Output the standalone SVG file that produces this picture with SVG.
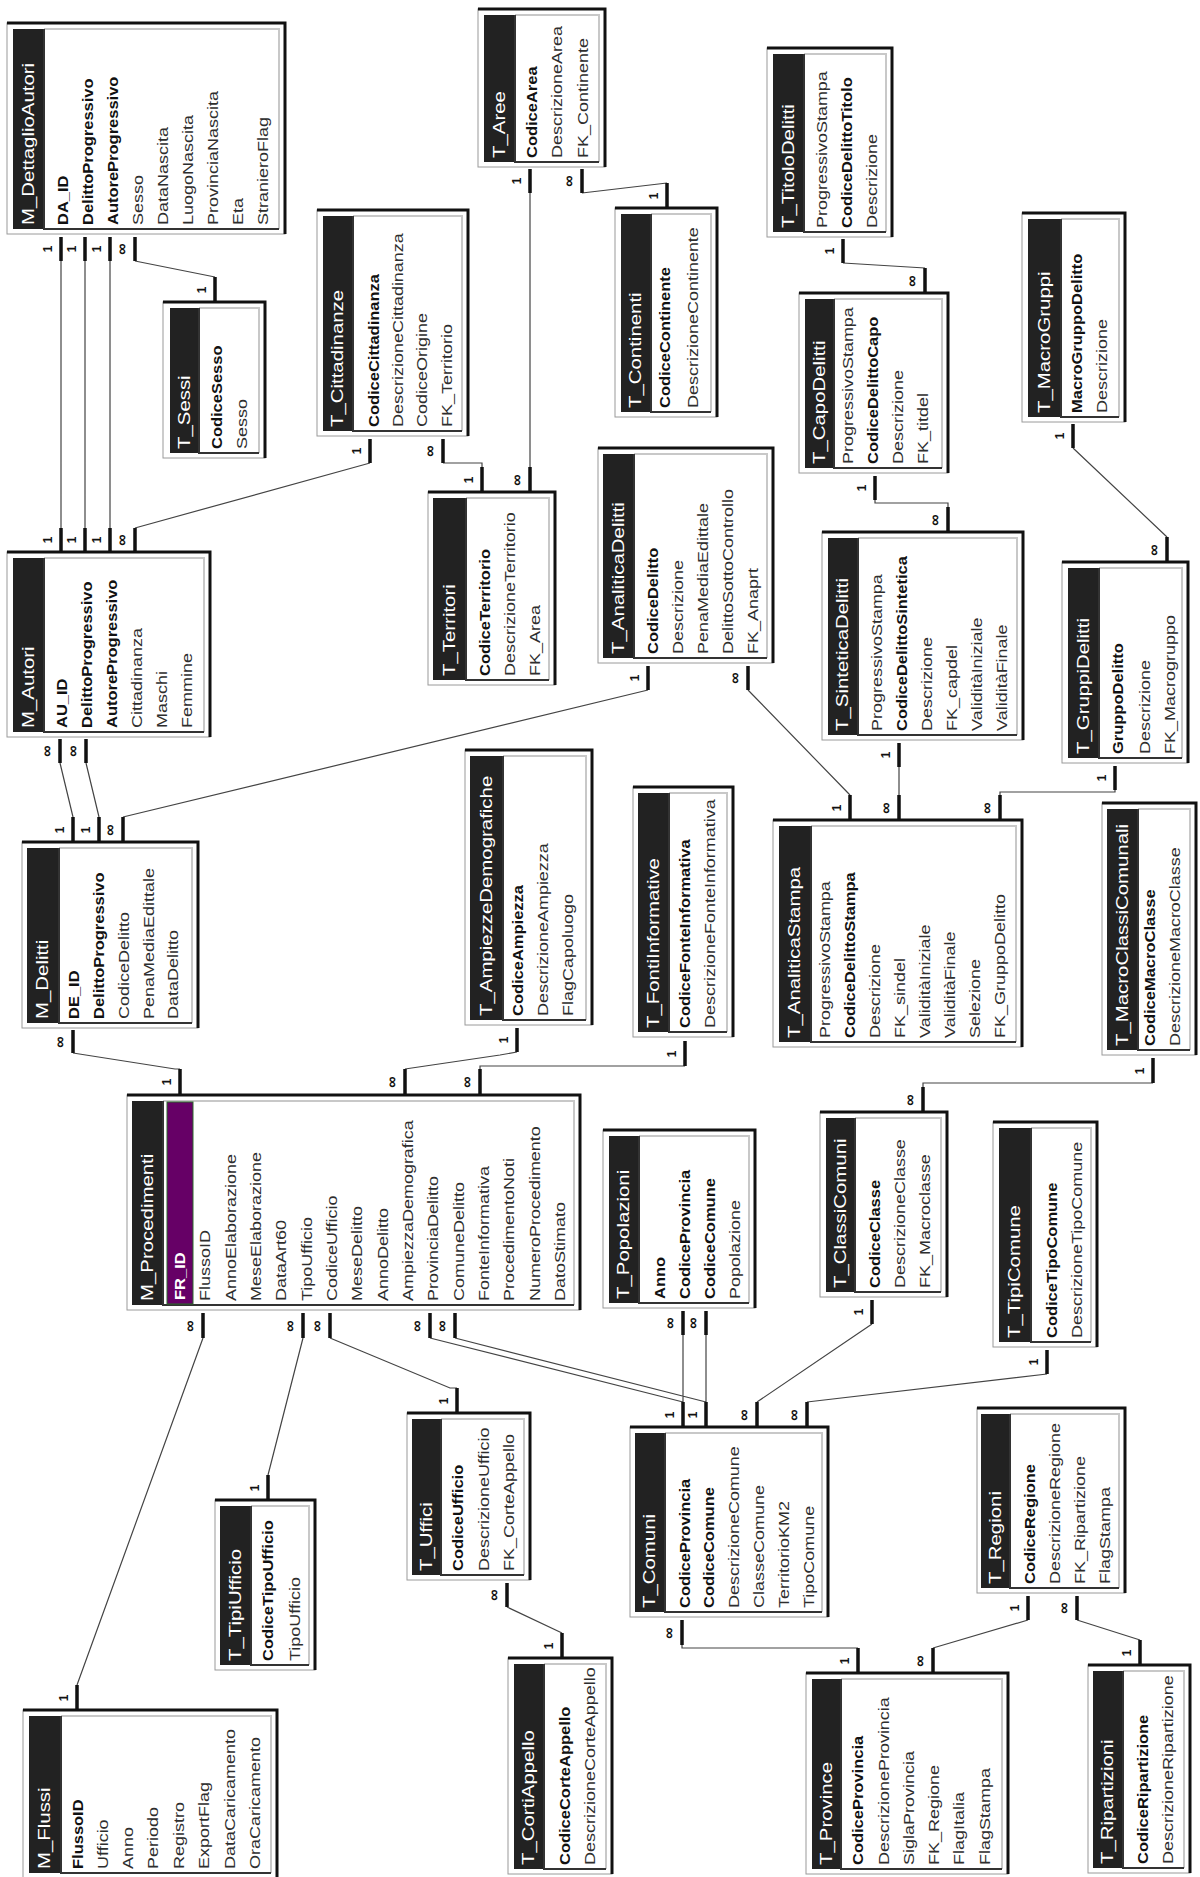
<svg xmlns="http://www.w3.org/2000/svg" width="1200" height="1877" viewBox="0 0 1200 1877">
<style>
.bg{fill:#fff}
.win{fill:#fff;stroke:#9a9a9a;stroke-width:1}
.edge{fill:none;stroke:#111;stroke-width:3}
.hdr{fill:#222}
.lt{fill:none;stroke:#c8c8c8;stroke-width:2}
.ins{fill:none;stroke:#333;stroke-width:2}
.t{font-family:"Liberation Sans",Arial,sans-serif;font-size:17px;fill:#fff}
.f{font-family:"Liberation Sans",Arial,sans-serif;font-size:15px;fill:#2e2e2e}
.k{font-family:"Liberation Sans",Arial,sans-serif;font-size:15px;font-weight:bold;fill:#111}
.kw{font-family:"Liberation Sans",Arial,sans-serif;font-size:15px;font-weight:bold;fill:#fff}
.pk{fill:#660066;stroke:#2a6a2a;stroke-width:1}
.stub{fill:none;stroke:#111;stroke-width:3.5}
.ln{fill:none;stroke:#444;stroke-width:1.2}
.c{font-family:"Liberation Sans",Arial,sans-serif;font-size:12px;font-weight:bold;fill:#111;text-anchor:middle}
.c.i{font-size:16px}
</style>
<rect class="bg" x="0" y="0" width="1200" height="1877"/>

<g id="connectors">
<path class="ln" d="M61 261V528M85 261V528M110 261V528M135 261L215 277M135 528L370 463M60 763L73 817M86 763L99 817M123 817L648 690M73 1053L175 1069H180M443 463H482V467M530 193V467M582 193L667 183M843 263L925 268M875 500V503H948V507M899 767V795M748 690L850 795M1073 448L1167 537M1115 790V792H1000V795M405 1069L500 1055L517 1052M480 1069V1066H685M1153 1083H923V1087M203 1338L77 1685M303 1338L268 1475M330 1338L450 1388H457M430 1338L683 1402M455 1338L706 1402M683 1335V1402M706 1335V1402M872 1324L757 1402M1047 1374L807 1402M507 1607L562 1633M682 1645V1648H858M1028 1620L933 1648M1077 1620L1140 1640"/>
<path class="stub" d="M61 237V261M85 237V261M110 237V261M135 237V261M215 277V302M61 528V552M85 528V552M110 528V552M135 528V552M60 739V763M86 739V763M73 817V842M99 817V842M123 817V842M73 1030V1053M370 439V463M443 439V463M530 169V193M582 169V193M667 183V208M482 467V492M530 467V492M843 239V263M925 268V293M875 476V500M948 507V532M899 743V767M1073 424V448M1167 537V562M1115 766V790M648 666V690M748 666V690M850 795V820M899 795V820M1000 795V820M517 1028V1052M685 1041V1066M180 1069V1095M405 1069V1095M480 1069V1095M203 1313V1338M303 1313V1338M330 1313V1338M430 1313V1338M455 1313V1338M1153 1058V1083M923 1087V1112M872 1300V1324M1047 1350V1374M683 1311V1335M706 1311V1335M683 1402V1427M706 1402V1427M757 1402V1427M807 1402V1427M682 1620V1645M457 1388V1413M507 1583V1607M562 1633V1658M268 1475V1500M77 1685V1710M858 1648V1673M933 1648V1673M1028 1596V1620M1077 1596V1620M1140 1640V1665"/>
<text class="c" transform="translate(52,249) rotate(-90)">1</text>
<text class="c" transform="translate(76,249) rotate(-90)">1</text>
<text class="c" transform="translate(101,249) rotate(-90)">1</text>
<text class="c i" transform="translate(127,249) rotate(-90)">∞</text>
<text class="c" transform="translate(206,290) rotate(-90)">1</text>
<text class="c" transform="translate(52,540) rotate(-90)">1</text>
<text class="c" transform="translate(76,540) rotate(-90)">1</text>
<text class="c" transform="translate(101,540) rotate(-90)">1</text>
<text class="c i" transform="translate(127,540) rotate(-90)">∞</text>
<text class="c i" transform="translate(52,751) rotate(-90)">∞</text>
<text class="c i" transform="translate(78,751) rotate(-90)">∞</text>
<text class="c" transform="translate(64,830) rotate(-90)">1</text>
<text class="c" transform="translate(90,830) rotate(-90)">1</text>
<text class="c i" transform="translate(115,830) rotate(-90)">∞</text>
<text class="c i" transform="translate(65,1042) rotate(-90)">∞</text>
<text class="c" transform="translate(361,451) rotate(-90)">1</text>
<text class="c i" transform="translate(435,451) rotate(-90)">∞</text>
<text class="c" transform="translate(521,181) rotate(-90)">1</text>
<text class="c i" transform="translate(574,181) rotate(-90)">∞</text>
<text class="c" transform="translate(658,196) rotate(-90)">1</text>
<text class="c" transform="translate(473,480) rotate(-90)">1</text>
<text class="c i" transform="translate(522,480) rotate(-90)">∞</text>
<text class="c" transform="translate(834,251) rotate(-90)">1</text>
<text class="c i" transform="translate(917,281) rotate(-90)">∞</text>
<text class="c" transform="translate(866,488) rotate(-90)">1</text>
<text class="c i" transform="translate(940,520) rotate(-90)">∞</text>
<text class="c" transform="translate(890,755) rotate(-90)">1</text>
<text class="c" transform="translate(1064,436) rotate(-90)">1</text>
<text class="c i" transform="translate(1159,550) rotate(-90)">∞</text>
<text class="c" transform="translate(1106,778) rotate(-90)">1</text>
<text class="c" transform="translate(639,678) rotate(-90)">1</text>
<text class="c i" transform="translate(740,678) rotate(-90)">∞</text>
<text class="c" transform="translate(841,808) rotate(-90)">1</text>
<text class="c i" transform="translate(891,808) rotate(-90)">∞</text>
<text class="c i" transform="translate(992,808) rotate(-90)">∞</text>
<text class="c" transform="translate(508,1040) rotate(-90)">1</text>
<text class="c" transform="translate(676,1054) rotate(-90)">1</text>
<text class="c" transform="translate(171,1082) rotate(-90)">1</text>
<text class="c i" transform="translate(397,1082) rotate(-90)">∞</text>
<text class="c i" transform="translate(472,1082) rotate(-90)">∞</text>
<text class="c i" transform="translate(195,1326) rotate(-90)">∞</text>
<text class="c i" transform="translate(295,1326) rotate(-90)">∞</text>
<text class="c i" transform="translate(322,1326) rotate(-90)">∞</text>
<text class="c i" transform="translate(422,1326) rotate(-90)">∞</text>
<text class="c i" transform="translate(447,1326) rotate(-90)">∞</text>
<text class="c" transform="translate(1144,1071) rotate(-90)">1</text>
<text class="c i" transform="translate(915,1100) rotate(-90)">∞</text>
<text class="c" transform="translate(863,1312) rotate(-90)">1</text>
<text class="c" transform="translate(1038,1362) rotate(-90)">1</text>
<text class="c i" transform="translate(675,1323) rotate(-90)">∞</text>
<text class="c i" transform="translate(698,1323) rotate(-90)">∞</text>
<text class="c" transform="translate(674,1415) rotate(-90)">1</text>
<text class="c" transform="translate(697,1415) rotate(-90)">1</text>
<text class="c i" transform="translate(749,1415) rotate(-90)">∞</text>
<text class="c i" transform="translate(799,1415) rotate(-90)">∞</text>
<text class="c i" transform="translate(674,1633) rotate(-90)">∞</text>
<text class="c" transform="translate(448,1401) rotate(-90)">1</text>
<text class="c i" transform="translate(499,1595) rotate(-90)">∞</text>
<text class="c" transform="translate(553,1646) rotate(-90)">1</text>
<text class="c" transform="translate(259,1488) rotate(-90)">1</text>
<text class="c" transform="translate(68,1698) rotate(-90)">1</text>
<text class="c" transform="translate(849,1661) rotate(-90)">1</text>
<text class="c i" transform="translate(925,1661) rotate(-90)">∞</text>
<text class="c" transform="translate(1019,1608) rotate(-90)">1</text>
<text class="c i" transform="translate(1069,1608) rotate(-90)">∞</text>
<text class="c" transform="translate(1131,1653) rotate(-90)">1</text>
</g>

<g id="M_DettaglioAutori">
<rect class="win" x="7" y="23" width="278" height="211"/>
<path class="edge" d="M7 23H285V234"/>
<rect class="hdr" x="13" y="29" width="30" height="200"/>
<path class="lt" d="M44 29H279V229"/><path class="ins" d="M44 29V229H279"/>
<text class="t" transform="translate(34,225) rotate(-90) scale(1.2,1)">M_DettaglioAutori</text>
<text class="k" transform="translate(68,225) rotate(-90) scale(1.1,1)">DA_ID</text>
<text class="k" transform="translate(93,225) rotate(-90) scale(1.1,1)">DelittoProgressivo</text>
<text class="k" transform="translate(118,225) rotate(-90) scale(1.1,1)">AutoreProgressivo</text>
<text class="f" transform="translate(143,225) rotate(-90) scale(1.2,1)">Sesso</text>
<text class="f" transform="translate(168,225) rotate(-90) scale(1.2,1)">DataNascita</text>
<text class="f" transform="translate(193,225) rotate(-90) scale(1.2,1)">LuogoNascita</text>
<text class="f" transform="translate(218,225) rotate(-90) scale(1.2,1)">ProvinciaNascita</text>
<text class="f" transform="translate(243,225) rotate(-90) scale(1.2,1)">Eta</text>
<text class="f" transform="translate(268,225) rotate(-90) scale(1.2,1)">StranieroFlag</text>
</g>

<g id="T_Sessi">
<rect class="win" x="163" y="302" width="102" height="156"/>
<path class="edge" d="M163 302H265V458"/>
<rect class="hdr" x="170" y="308" width="28" height="145"/>
<path class="lt" d="M199 308H259V453"/><path class="ins" d="M199 308V453H259"/>
<text class="t" transform="translate(190,449) rotate(-90) scale(1.2,1)">T_Sessi</text>
<text class="k" transform="translate(222,449) rotate(-90) scale(1.1,1)">CodiceSesso</text>
<text class="f" transform="translate(247,449) rotate(-90) scale(1.2,1)">Sesso</text>
</g>

<g id="T_Cittadinanze">
<rect class="win" x="317" y="210" width="151" height="226"/>
<path class="edge" d="M317 210H468V436"/>
<rect class="hdr" x="323" y="216" width="29" height="215"/>
<path class="lt" d="M353 216H462V431"/><path class="ins" d="M353 216V431H462"/>
<text class="t" transform="translate(343,427) rotate(-90) scale(1.2,1)">T_Cittadinanze</text>
<text class="k" transform="translate(379,427) rotate(-90) scale(1.1,1)">CodiceCittadinanza</text>
<text class="f" transform="translate(403,427) rotate(-90) scale(1.2,1)">DescrizioneCittadinanza</text>
<text class="f" transform="translate(427,427) rotate(-90) scale(1.2,1)">CodiceOrigine</text>
<text class="f" transform="translate(452,427) rotate(-90) scale(1.2,1)">FK_Territorio</text>
</g>

<g id="T_Aree">
<rect class="win" x="478" y="9" width="127" height="158"/>
<path class="edge" d="M478 9H605V167"/>
<rect class="hdr" x="484" y="15" width="30" height="147"/>
<path class="lt" d="M515 15H599V162"/><path class="ins" d="M515 15V162H599"/>
<text class="t" transform="translate(505,158) rotate(-90) scale(1.2,1)">T_Aree</text>
<text class="k" transform="translate(537,158) rotate(-90) scale(1.1,1)">CodiceArea</text>
<text class="f" transform="translate(562,158) rotate(-90) scale(1.2,1)">DescrizioneArea</text>
<text class="f" transform="translate(588,158) rotate(-90) scale(1.2,1)">FK_Continente</text>
</g>

<g id="T_Continenti">
<rect class="win" x="615" y="208" width="102" height="209"/>
<path class="edge" d="M615 208H717V417"/>
<rect class="hdr" x="621" y="214" width="29" height="198"/>
<path class="lt" d="M651 214H711V412"/><path class="ins" d="M651 214V412H711"/>
<text class="t" transform="translate(641,408) rotate(-90) scale(1.2,1)">T_Continenti</text>
<text class="k" transform="translate(670,408) rotate(-90) scale(1.1,1)">CodiceContinente</text>
<text class="f" transform="translate(698,408) rotate(-90) scale(1.2,1)">DescrizioneContinente</text>
</g>

<g id="T_TitoloDelitti">
<rect class="win" x="767" y="48" width="125" height="189"/>
<path class="edge" d="M767 48H892V237"/>
<rect class="hdr" x="773" y="54" width="30" height="178"/>
<path class="lt" d="M804 54H886V232"/><path class="ins" d="M804 54V232H886"/>
<text class="t" transform="translate(794,228) rotate(-90) scale(1.2,1)">T_TitoloDelitti</text>
<text class="f" transform="translate(827,228) rotate(-90) scale(1.2,1)">ProgressivoStampa</text>
<text class="k" transform="translate(852,228) rotate(-90) scale(1.1,1)">CodiceDelittoTitolo</text>
<text class="f" transform="translate(877,228) rotate(-90) scale(1.2,1)">Descrizione</text>
</g>

<g id="T_CapoDelitti">
<rect class="win" x="799" y="293" width="149" height="180"/>
<path class="edge" d="M799 293H948V473"/>
<rect class="hdr" x="805" y="299" width="28" height="169"/>
<path class="lt" d="M834 299H942V468"/><path class="ins" d="M834 299V468H942"/>
<text class="t" transform="translate(825,464) rotate(-90) scale(1.2,1)">T_CapoDelitti</text>
<text class="f" transform="translate(853,464) rotate(-90) scale(1.2,1)">ProgressivoStampa</text>
<text class="k" transform="translate(878,464) rotate(-90) scale(1.1,1)">CodiceDelittoCapo</text>
<text class="f" transform="translate(903,464) rotate(-90) scale(1.2,1)">Descrizione</text>
<text class="f" transform="translate(928,464) rotate(-90) scale(1.2,1)">FK_titdel</text>
</g>

<g id="T_MacroGruppi">
<rect class="win" x="1022" y="213" width="103" height="209"/>
<path class="edge" d="M1022 213H1125V422"/>
<rect class="hdr" x="1028" y="219" width="32" height="198"/>
<path class="lt" d="M1061 219H1119V417"/><path class="ins" d="M1061 219V417H1119"/>
<text class="t" transform="translate(1050,413) rotate(-90) scale(1.2,1)">T_MacroGruppi</text>
<text class="k" transform="translate(1082,413) rotate(-90) scale(1.1,1)">MacroGruppoDelitto</text>
<text class="f" transform="translate(1107,413) rotate(-90) scale(1.2,1)">Descrizione</text>
</g>

<g id="M_Autori">
<rect class="win" x="7" y="552" width="203" height="185"/>
<path class="edge" d="M7 552H210V737"/>
<rect class="hdr" x="13" y="558" width="30" height="174"/>
<path class="lt" d="M44 558H204V732"/><path class="ins" d="M44 558V732H204"/>
<text class="t" transform="translate(34,728) rotate(-90) scale(1.2,1)">M_Autori</text>
<text class="k" transform="translate(67,728) rotate(-90) scale(1.1,1)">AU_ID</text>
<text class="k" transform="translate(92,728) rotate(-90) scale(1.1,1)">DelittoProgressivo</text>
<text class="k" transform="translate(117,728) rotate(-90) scale(1.1,1)">AutoreProgressivo</text>
<text class="f" transform="translate(142,728) rotate(-90) scale(1.2,1)">Cittadinanza</text>
<text class="f" transform="translate(167,728) rotate(-90) scale(1.2,1)">Maschi</text>
<text class="f" transform="translate(192,728) rotate(-90) scale(1.2,1)">Femmine</text>
</g>

<g id="M_Delitti">
<rect class="win" x="22" y="842" width="176" height="186"/>
<path class="edge" d="M22 842H198V1028"/>
<rect class="hdr" x="27" y="848" width="31" height="175"/>
<path class="lt" d="M59 848H192V1023"/><path class="ins" d="M59 848V1023H192"/>
<text class="t" transform="translate(48,1019) rotate(-90) scale(1.2,1)">M_Delitti</text>
<text class="k" transform="translate(79,1019) rotate(-90) scale(1.1,1)">DE_ID</text>
<text class="k" transform="translate(104,1019) rotate(-90) scale(1.1,1)">DelittoProgressivo</text>
<text class="f" transform="translate(129,1019) rotate(-90) scale(1.2,1)">CodiceDelitto</text>
<text class="f" transform="translate(154,1019) rotate(-90) scale(1.2,1)">PenaMediaEdittale</text>
<text class="f" transform="translate(178,1019) rotate(-90) scale(1.2,1)">DataDelitto</text>
</g>

<g id="T_Territori">
<rect class="win" x="428" y="492" width="127" height="193"/>
<path class="edge" d="M428 492H555V685"/>
<rect class="hdr" x="433" y="498" width="32" height="182"/>
<path class="lt" d="M466 498H549V680"/><path class="ins" d="M466 498V680H549"/>
<text class="t" transform="translate(455,676) rotate(-90) scale(1.2,1)">T_Territori</text>
<text class="k" transform="translate(490,676) rotate(-90) scale(1.1,1)">CodiceTerritorio</text>
<text class="f" transform="translate(515,676) rotate(-90) scale(1.2,1)">DescrizioneTerritorio</text>
<text class="f" transform="translate(540,676) rotate(-90) scale(1.2,1)">FK_Area</text>
</g>

<g id="T_AnaliticaDelitti">
<rect class="win" x="598" y="448" width="175" height="215"/>
<path class="edge" d="M598 448H773V663"/>
<rect class="hdr" x="603" y="454" width="30" height="204"/>
<path class="lt" d="M634 454H767V658"/><path class="ins" d="M634 454V658H767"/>
<text class="t" transform="translate(624,654) rotate(-90) scale(1.2,1)">T_AnaliticaDelitti</text>
<text class="k" transform="translate(658,654) rotate(-90) scale(1.1,1)">CodiceDelitto</text>
<text class="f" transform="translate(683,654) rotate(-90) scale(1.2,1)">Descrizione</text>
<text class="f" transform="translate(708,654) rotate(-90) scale(1.2,1)">PenaMediaEdittale</text>
<text class="f" transform="translate(733,654) rotate(-90) scale(1.2,1)">DelittoSottoControllo</text>
<text class="f" transform="translate(758,654) rotate(-90) scale(1.2,1)">FK_Anaprt</text>
</g>

<g id="T_AmpiezzeDemografiche">
<rect class="win" x="465" y="750" width="127" height="275"/>
<path class="edge" d="M465 750H592V1025"/>
<rect class="hdr" x="470" y="756" width="32" height="264"/>
<path class="lt" d="M503 756H586V1020"/><path class="ins" d="M503 756V1020H586"/>
<text class="t" transform="translate(492,1016) rotate(-90) scale(1.2,1)">T_AmpiezzeDemografiche</text>
<text class="k" transform="translate(523,1016) rotate(-90) scale(1.1,1)">CodiceAmpiezza</text>
<text class="f" transform="translate(548,1016) rotate(-90) scale(1.2,1)">DescrizioneAmpiezza</text>
<text class="f" transform="translate(573,1016) rotate(-90) scale(1.2,1)">FlagCapoluogo</text>
</g>

<g id="T_FontiInformative">
<rect class="win" x="633" y="787" width="100" height="250"/>
<path class="edge" d="M633 787H733V1037"/>
<rect class="hdr" x="638" y="793" width="30" height="239"/>
<path class="lt" d="M669 793H727V1032"/><path class="ins" d="M669 793V1032H727"/>
<text class="t" transform="translate(659,1028) rotate(-90) scale(1.2,1)">T_FontiInformative</text>
<text class="k" transform="translate(690,1028) rotate(-90) scale(1.1,1)">CodiceFonteInformativa</text>
<text class="f" transform="translate(715,1028) rotate(-90) scale(1.2,1)">DescrizioneFonteInformativa</text>
</g>

<g id="T_SinteticaDelitti">
<rect class="win" x="822" y="532" width="201" height="208"/>
<path class="edge" d="M822 532H1023V740"/>
<rect class="hdr" x="828" y="538" width="29" height="197"/>
<path class="lt" d="M858 538H1017V735"/><path class="ins" d="M858 538V735H1017"/>
<text class="t" transform="translate(848,731) rotate(-90) scale(1.2,1)">T_SinteticaDelitti</text>
<text class="f" transform="translate(882,731) rotate(-90) scale(1.2,1)">ProgressivoStampa</text>
<text class="k" transform="translate(907,731) rotate(-90) scale(1.1,1)">CodiceDelittoSintetica</text>
<text class="f" transform="translate(932,731) rotate(-90) scale(1.2,1)">Descrizione</text>
<text class="f" transform="translate(957,731) rotate(-90) scale(1.2,1)">FK_capdel</text>
<text class="f" transform="translate(982,731) rotate(-90) scale(1.2,1)">ValiditàIniziale</text>
<text class="f" transform="translate(1007,731) rotate(-90) scale(1.2,1)">ValiditàFinale</text>
</g>

<g id="T_GruppiDelitti">
<rect class="win" x="1062" y="562" width="126" height="201"/>
<path class="edge" d="M1062 562H1188V763"/>
<rect class="hdr" x="1068" y="568" width="30" height="190"/>
<path class="lt" d="M1099 568H1182V758"/><path class="ins" d="M1099 568V758H1182"/>
<text class="t" transform="translate(1089,754) rotate(-90) scale(1.2,1)">T_GruppiDelitti</text>
<text class="k" transform="translate(1123,754) rotate(-90) scale(1.1,1)">GruppoDelitto</text>
<text class="f" transform="translate(1150,754) rotate(-90) scale(1.2,1)">Descrizione</text>
<text class="f" transform="translate(1175,754) rotate(-90) scale(1.2,1)">FK_Macrogruppo</text>
</g>

<g id="T_AnaliticaStampa">
<rect class="win" x="773" y="820" width="249" height="227"/>
<path class="edge" d="M773 820H1022V1047"/>
<rect class="hdr" x="779" y="826" width="31" height="216"/>
<path class="lt" d="M811 826H1016V1042"/><path class="ins" d="M811 826V1042H1016"/>
<text class="t" transform="translate(800,1038) rotate(-90) scale(1.2,1)">T_AnaliticaStampa</text>
<text class="f" transform="translate(830,1038) rotate(-90) scale(1.2,1)">ProgressivoStampa</text>
<text class="k" transform="translate(855,1038) rotate(-90) scale(1.1,1)">CodiceDelittoStampa</text>
<text class="f" transform="translate(880,1038) rotate(-90) scale(1.2,1)">Descrizione</text>
<text class="f" transform="translate(905,1038) rotate(-90) scale(1.2,1)">FK_sindel</text>
<text class="f" transform="translate(930,1038) rotate(-90) scale(1.2,1)">ValiditàIniziale</text>
<text class="f" transform="translate(955,1038) rotate(-90) scale(1.2,1)">ValiditàFinale</text>
<text class="f" transform="translate(980,1038) rotate(-90) scale(1.2,1)">Selezione</text>
<text class="f" transform="translate(1005,1038) rotate(-90) scale(1.2,1)">FK_GruppoDelitto</text>
</g>

<g id="T_MacroClassiComunali">
<rect class="win" x="1102" y="803" width="94" height="252"/>
<path class="edge" d="M1102 803H1196V1055"/>
<rect class="hdr" x="1107" y="809" width="30" height="241"/>
<path class="lt" d="M1138 809H1190V1050"/><path class="ins" d="M1138 809V1050H1190"/>
<text class="t" transform="translate(1128,1046) rotate(-90) scale(1.2,1)">T_MacroClassiComunali</text>
<text class="k" transform="translate(1155,1046) rotate(-90) scale(1.1,1)">CodiceMacroClasse</text>
<text class="f" transform="translate(1180,1046) rotate(-90) scale(1.2,1)">DescrizioneMacroClasse</text>
</g>

<g id="M_Procedimenti">
<rect class="win" x="127" y="1095" width="453" height="215"/>
<path class="edge" d="M127 1095H580V1310"/>
<rect class="hdr" x="132" y="1101" width="30" height="204"/>
<path class="lt" d="M163 1101H574V1305"/><path class="ins" d="M163 1101V1305H574"/>
<rect class="pk" x="167" y="1102" width="26" height="202"/>
<text class="t" transform="translate(153,1301) rotate(-90) scale(1.2,1)">M_Procedimenti</text>
<text class="kw" transform="translate(185,1300) rotate(-90) scale(1.1,1)">FR_ID</text>
<text class="f" transform="translate(210,1301) rotate(-90) scale(1.2,1)">FlussoID</text>
<text class="f" transform="translate(236,1301) rotate(-90) scale(1.2,1)">AnnoElaborazione</text>
<text class="f" transform="translate(261,1301) rotate(-90) scale(1.2,1)">MeseElaborazione</text>
<text class="f" transform="translate(286,1301) rotate(-90) scale(1.2,1)">DataArt60</text>
<text class="f" transform="translate(312,1301) rotate(-90) scale(1.2,1)">TipoUfficio</text>
<text class="f" transform="translate(337,1301) rotate(-90) scale(1.2,1)">CodiceUfficio</text>
<text class="f" transform="translate(362,1301) rotate(-90) scale(1.2,1)">MeseDelitto</text>
<text class="f" transform="translate(388,1301) rotate(-90) scale(1.2,1)">AnnoDelitto</text>
<text class="f" transform="translate(413,1301) rotate(-90) scale(1.2,1)">AmpiezzaDemografica</text>
<text class="f" transform="translate(438,1301) rotate(-90) scale(1.2,1)">ProvinciaDelitto</text>
<text class="f" transform="translate(464,1301) rotate(-90) scale(1.2,1)">ComuneDelitto</text>
<text class="f" transform="translate(489,1301) rotate(-90) scale(1.2,1)">FonteInformativa</text>
<text class="f" transform="translate(514,1301) rotate(-90) scale(1.2,1)">ProcedimentoNoti</text>
<text class="f" transform="translate(540,1301) rotate(-90) scale(1.2,1)">NumeroProcedimento</text>
<text class="f" transform="translate(565,1301) rotate(-90) scale(1.2,1)">DatoStimato</text>
</g>

<g id="T_Popolazioni">
<rect class="win" x="603" y="1130" width="152" height="178"/>
<path class="edge" d="M603 1130H755V1308"/>
<rect class="hdr" x="609" y="1136" width="29" height="167"/>
<path class="lt" d="M639 1136H749V1303"/><path class="ins" d="M639 1136V1303H749"/>
<text class="t" transform="translate(629,1299) rotate(-90) scale(1.2,1)">T_Popolazioni</text>
<text class="k" transform="translate(665,1299) rotate(-90) scale(1.1,1)">Anno</text>
<text class="k" transform="translate(690,1299) rotate(-90) scale(1.1,1)">CodiceProvincia</text>
<text class="k" transform="translate(715,1299) rotate(-90) scale(1.1,1)">CodiceComune</text>
<text class="f" transform="translate(740,1299) rotate(-90) scale(1.2,1)">Popolazione</text>
</g>

<g id="T_ClassiComuni">
<rect class="win" x="820" y="1112" width="127" height="185"/>
<path class="edge" d="M820 1112H947V1297"/>
<rect class="hdr" x="826" y="1118" width="28" height="174"/>
<path class="lt" d="M855 1118H941V1292"/><path class="ins" d="M855 1118V1292H941"/>
<text class="t" transform="translate(846,1288) rotate(-90) scale(1.2,1)">T_ClassiComuni</text>
<text class="k" transform="translate(880,1288) rotate(-90) scale(1.1,1)">CodiceClasse</text>
<text class="f" transform="translate(905,1288) rotate(-90) scale(1.2,1)">DescrizioneClasse</text>
<text class="f" transform="translate(930,1288) rotate(-90) scale(1.2,1)">FK_Macroclasse</text>
</g>

<g id="T_TipiComune">
<rect class="win" x="993" y="1122" width="104" height="225"/>
<path class="edge" d="M993 1122H1097V1347"/>
<rect class="hdr" x="999" y="1128" width="31" height="214"/>
<path class="lt" d="M1031 1128H1091V1342"/><path class="ins" d="M1031 1128V1342H1091"/>
<text class="t" transform="translate(1020,1338) rotate(-90) scale(1.2,1)">T_TipiComune</text>
<text class="k" transform="translate(1057,1338) rotate(-90) scale(1.1,1)">CodiceTipoComune</text>
<text class="f" transform="translate(1082,1338) rotate(-90) scale(1.2,1)">DescrizioneTipoComune</text>
</g>

<g id="T_Comuni">
<rect class="win" x="630" y="1427" width="198" height="190"/>
<path class="edge" d="M630 1427H828V1617"/>
<rect class="hdr" x="635" y="1433" width="29" height="179"/>
<path class="lt" d="M665 1433H822V1612"/><path class="ins" d="M665 1433V1612H822"/>
<text class="t" transform="translate(655,1608) rotate(-90) scale(1.2,1)">T_Comuni</text>
<text class="k" transform="translate(690,1608) rotate(-90) scale(1.1,1)">CodiceProvincia</text>
<text class="k" transform="translate(714,1608) rotate(-90) scale(1.1,1)">CodiceComune</text>
<text class="f" transform="translate(739,1608) rotate(-90) scale(1.2,1)">DescrizioneComune</text>
<text class="f" transform="translate(764,1608) rotate(-90) scale(1.2,1)">ClasseComune</text>
<text class="f" transform="translate(789,1608) rotate(-90) scale(1.2,1)">TerritorioKM2</text>
<text class="f" transform="translate(814,1608) rotate(-90) scale(1.2,1)">TipoComune</text>
</g>

<g id="T_Uffici">
<rect class="win" x="407" y="1413" width="123" height="167"/>
<path class="edge" d="M407 1413H530V1580"/>
<rect class="hdr" x="412" y="1419" width="28" height="156"/>
<path class="lt" d="M441 1419H524V1575"/><path class="ins" d="M441 1419V1575H524"/>
<text class="t" transform="translate(432,1571) rotate(-90) scale(1.2,1)">T_Uffici</text>
<text class="k" transform="translate(463,1571) rotate(-90) scale(1.1,1)">CodiceUfficio</text>
<text class="f" transform="translate(489,1571) rotate(-90) scale(1.2,1)">DescrizioneUfficio</text>
<text class="f" transform="translate(514,1571) rotate(-90) scale(1.2,1)">FK_CorteAppello</text>
</g>

<g id="T_CortiAppello">
<rect class="win" x="508" y="1658" width="104" height="216"/>
<path class="edge" d="M508 1658H612V1874"/>
<rect class="hdr" x="514" y="1664" width="29" height="205"/>
<path class="lt" d="M544 1664H606V1869"/><path class="ins" d="M544 1664V1869H606"/>
<text class="t" transform="translate(534,1865) rotate(-90) scale(1.2,1)">T_CortiAppello</text>
<text class="k" transform="translate(570,1865) rotate(-90) scale(1.1,1)">CodiceCorteAppello</text>
<text class="f" transform="translate(595,1865) rotate(-90) scale(1.2,1)">DescrizioneCorteAppello</text>
</g>

<g id="T_TipiUfficio">
<rect class="win" x="215" y="1500" width="100" height="170"/>
<path class="edge" d="M215 1500H315V1670"/>
<rect class="hdr" x="220" y="1506" width="30" height="159"/>
<path class="lt" d="M251 1506H309V1665"/><path class="ins" d="M251 1506V1665H309"/>
<text class="t" transform="translate(241,1661) rotate(-90) scale(1.2,1)">T_TipiUfficio</text>
<text class="k" transform="translate(273,1661) rotate(-90) scale(1.1,1)">CodiceTipoUfficio</text>
<text class="f" transform="translate(300,1661) rotate(-90) scale(1.2,1)">TipoUfficio</text>
</g>

<g id="M_Flussi">
<rect class="win" x="23" y="1710" width="254" height="168"/>
<path class="edge" d="M23 1710H277V1878"/>
<rect class="hdr" x="29" y="1716" width="31" height="157"/>
<path class="lt" d="M61 1716H271V1873"/><path class="ins" d="M61 1716V1873H271"/>
<text class="t" transform="translate(50,1869) rotate(-90) scale(1.2,1)">M_Flussi</text>
<text class="k" transform="translate(83,1869) rotate(-90) scale(1.1,1)">FlussoID</text>
<text class="f" transform="translate(108,1869) rotate(-90) scale(1.2,1)">Ufficio</text>
<text class="f" transform="translate(133,1869) rotate(-90) scale(1.2,1)">Anno</text>
<text class="f" transform="translate(158,1869) rotate(-90) scale(1.2,1)">Periodo</text>
<text class="f" transform="translate(184,1869) rotate(-90) scale(1.2,1)">Registro</text>
<text class="f" transform="translate(209,1869) rotate(-90) scale(1.2,1)">ExportFlag</text>
<text class="f" transform="translate(235,1869) rotate(-90) scale(1.2,1)">DataCaricamento</text>
<text class="f" transform="translate(260,1869) rotate(-90) scale(1.2,1)">OraCaricamento</text>
</g>

<g id="T_Province">
<rect class="win" x="806" y="1673" width="202" height="201"/>
<path class="edge" d="M806 1673H1008V1874"/>
<rect class="hdr" x="812" y="1679" width="28" height="190"/>
<path class="lt" d="M841 1679H1002V1869"/><path class="ins" d="M841 1679V1869H1002"/>
<text class="t" transform="translate(832,1865) rotate(-90) scale(1.2,1)">T_Province</text>
<text class="k" transform="translate(863,1865) rotate(-90) scale(1.1,1)">CodiceProvincia</text>
<text class="f" transform="translate(889,1865) rotate(-90) scale(1.2,1)">DescrizioneProvincia</text>
<text class="f" transform="translate(914,1865) rotate(-90) scale(1.2,1)">SiglaProvincia</text>
<text class="f" transform="translate(939,1865) rotate(-90) scale(1.2,1)">FK_Regione</text>
<text class="f" transform="translate(964,1865) rotate(-90) scale(1.2,1)">FlagItalia</text>
<text class="f" transform="translate(990,1865) rotate(-90) scale(1.2,1)">FlagStampa</text>
</g>

<g id="T_Regioni">
<rect class="win" x="977" y="1408" width="148" height="185"/>
<path class="edge" d="M977 1408H1125V1593"/>
<rect class="hdr" x="981" y="1414" width="28" height="174"/>
<path class="lt" d="M1010 1414H1119V1588"/><path class="ins" d="M1010 1414V1588H1119"/>
<text class="t" transform="translate(1001,1584) rotate(-90) scale(1.2,1)">T_Regioni</text>
<text class="k" transform="translate(1035,1584) rotate(-90) scale(1.1,1)">CodiceRegione</text>
<text class="f" transform="translate(1060,1584) rotate(-90) scale(1.2,1)">DescrizioneRegione</text>
<text class="f" transform="translate(1085,1584) rotate(-90) scale(1.2,1)">FK_Ripartizione</text>
<text class="f" transform="translate(1110,1584) rotate(-90) scale(1.2,1)">FlagStampa</text>
</g>

<g id="T_Ripartizioni">
<rect class="win" x="1088" y="1665" width="102" height="208"/>
<path class="edge" d="M1088 1665H1190V1873"/>
<rect class="hdr" x="1093" y="1671" width="29" height="197"/>
<path class="lt" d="M1123 1671H1184V1868"/><path class="ins" d="M1123 1671V1868H1184"/>
<text class="t" transform="translate(1113,1864) rotate(-90) scale(1.2,1)">T_Ripartizioni</text>
<text class="k" transform="translate(1148,1864) rotate(-90) scale(1.1,1)">CodiceRipartizione</text>
<text class="f" transform="translate(1173,1864) rotate(-90) scale(1.2,1)">DescrizioneRipartizione</text>
</g>
</svg>
